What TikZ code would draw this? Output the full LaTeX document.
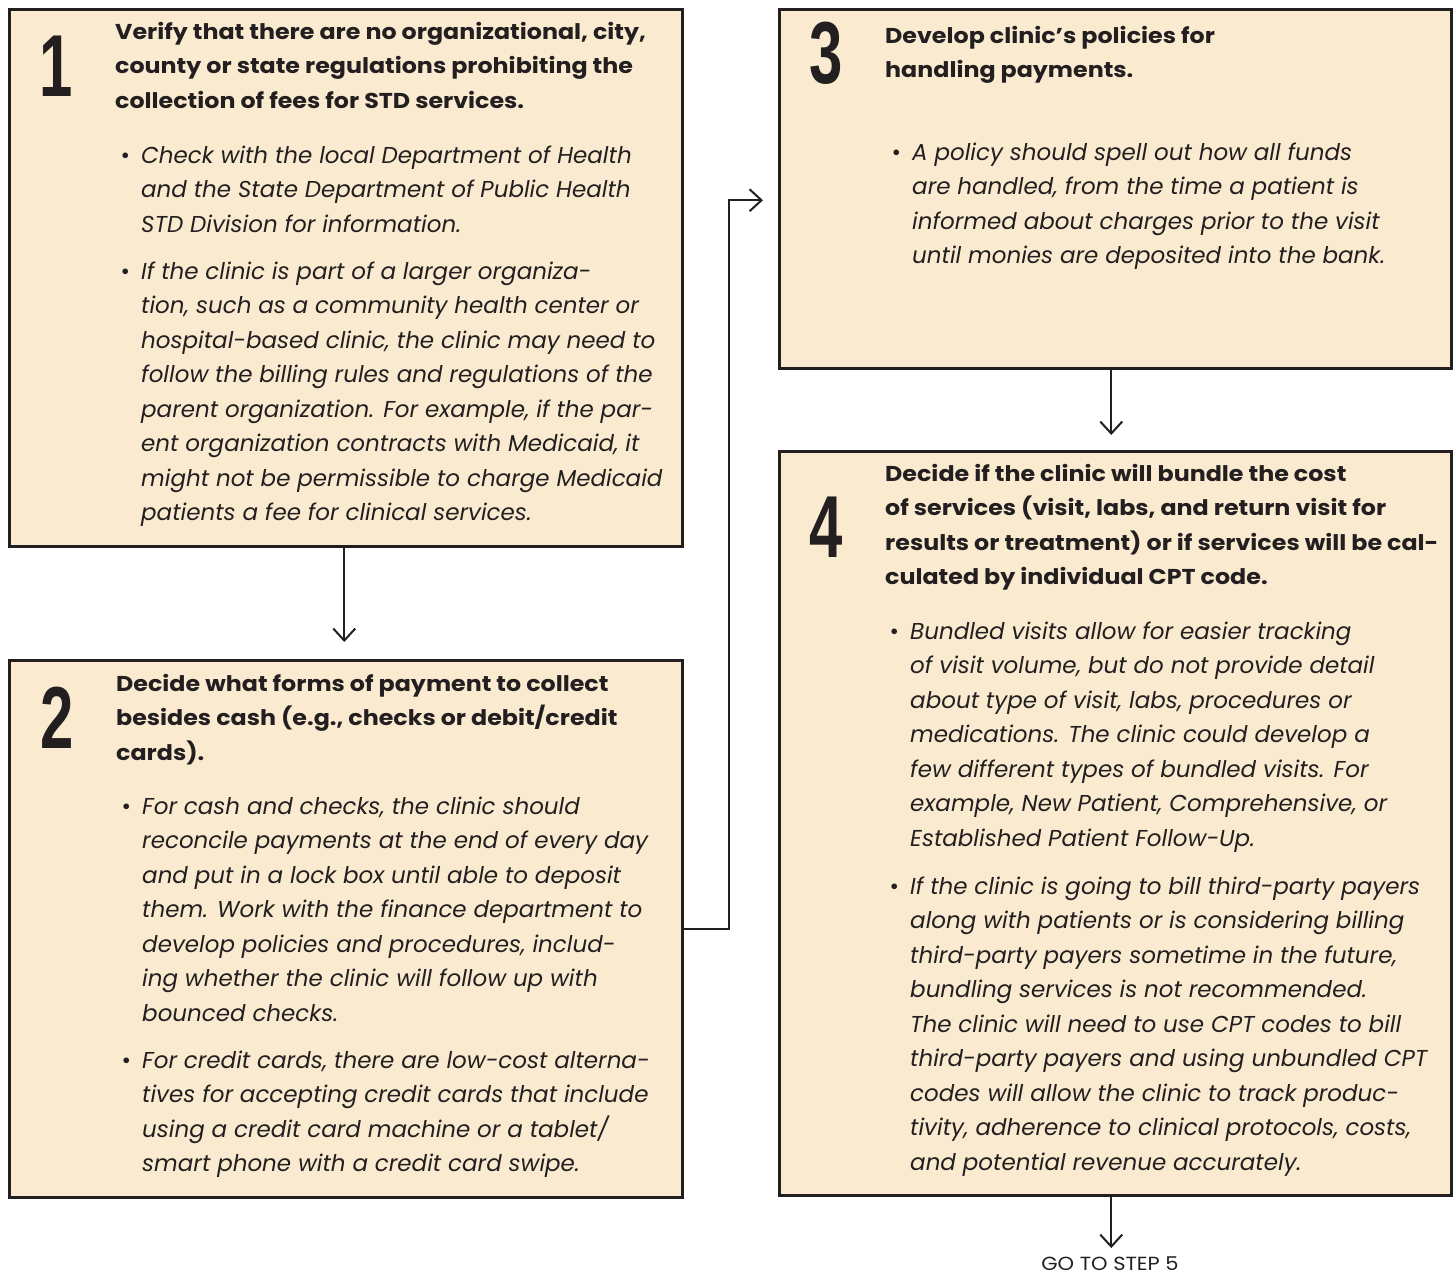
\documentclass[tikz,border=0pt]{standalone}
\usepackage{fontspec}
\setmainfont{Poppins}
\newfontfamily\headfont{Poppins}[FakeStretch=1.105]
\newfontfamily\numfont{Liberation Sans}
\usetikzlibrary{arrows.meta,calc}
\definecolor{boxfill}{HTML}{FAEBD0}
\definecolor{ink}{HTML}{231F20}
\tikzset{
  stepbox/.style={draw=ink, line width=2.5pt, fill=boxfill, inner sep=0pt, anchor=north west},
  flow/.style={draw=ink, line width=2pt, -{Straight Barb[length=12pt,width=22pt,line width=2pt]}},
  numtext/.style={anchor=center, inner sep=0pt, text=ink, font=\numfont\bfseries\fontsize{88}{88}\selectfont},
  headtext/.style={anchor=base west, inner sep=0pt, text=ink, font=\headfont\bfseries\fontsize{21.5}{34.5}\selectfont},
  bullettext/.style={anchor=base west, inner sep=0pt, text=ink, font=\itshape\fontsize{23}{34.5}\selectfont},
  gotext/.style={anchor=base, inner sep=0pt, text=ink, font=\headfont\fontsize{19}{19}\selectfont},
}
\newcommand{\bul}{\llap{\upshape\textbullet\hspace{11pt}}}
\newcommand{\cnum}[1]{\scalebox{0.68}[1]{#1}}
\newcommand{\para}[1]{\begin{tabular}[t]{@{}l@{}}#1\end{tabular}}
\begin{document}
\begin{tikzpicture}[x=1pt,y=-1pt]
\useasboundingbox[fill=white] (0,0) rectangle (1455,1274);
% boxes
\node[stepbox, minimum width=673pt, minimum height=537pt] (b1) at (8,8) {};
\node[stepbox, minimum width=673pt, minimum height=537pt] (b2) at (8,659) {};
\node[stepbox, minimum width=672pt, minimum height=359pt] (b3) at (778,8) {};
\node[stepbox, minimum width=672pt, minimum height=744pt] (b4) at (778,450) {};
% numbers
\node[numtext] (n1) at (56,66) {\cnum{1}};
\node[numtext] (n2) at (57,718) {\cnum{2}};
\node[numtext] (n3) at (826,53) {\cnum{3}};
\node[numtext] (n4) at (826,527) {\cnum{4}};
% box 1
\node[headtext] (h1) at (115,39) {\para{Verify that there are no organizational, city,\\county or state regulations prohibiting the\\collection of fees for STD services.}};
\node[bullettext] (t1a) at (141,163) {\para{\bul Check with the local Department of Health\\and the State Department of Public Health\\STD Division for information.}};
\node[bullettext] (t1b) at (141,279) {\para{\bul If the clinic is part of a larger organiza-\\tion, such as a community health center or\\hospital-based clinic, the clinic may need to\\follow the billing rules and regulations of the\\parent organization. For example, if the par-\\ent organization contracts with Medicaid, it\\might not be permissible to charge Medicaid\\patients a fee for clinical services.}};
% box 2
\node[headtext] (h2) at (116,691) {\para{Decide what forms of payment to collect\\besides cash (e.g., checks or debit/credit\\cards).}};
\node[bullettext] (t2a) at (142,814) {\para{\bul For cash and checks, the clinic should\\reconcile payments at the end of every day\\and put in a lock box until able to deposit\\them. Work with the finance department to\\develop policies and procedures, includ-\\ing whether the clinic will follow up with\\bounced checks.}};
\node[bullettext] (t2b) at (142,1068) {\para{\bul For credit cards, there are low-cost alterna-\\tives for accepting credit cards that include\\using a credit card machine or a tablet/\\smart phone with a credit card swipe.}};
% box 3
\node[headtext] (h3) at (885,43) {\para{Develop clinic’s policies for\\handling payments.}};
\node[bullettext] (t3a) at (912,160) {\para{\bul A policy should spell out how all funds\\are handled, from the time a patient is\\informed about charges prior to the visit\\until monies are deposited into the bank.}};
% box 4
\node[headtext] (h4) at (885,481) {\para{Decide if the clinic will bundle the cost\\of services (visit, labs, and return visit for\\results or treatment) or if services will be cal-\\culated by individual CPT code.}};
\node[bullettext] (t4a) at (910,639) {\para{\bul Bundled visits allow for easier tracking\\of visit volume, but do not provide detail\\about type of visit, labs, procedures or\\medications. The clinic could develop a\\few different types of bundled visits. For\\example, New Patient, Comprehensive, or\\Established Patient Follow-Up.}};
\node[bullettext] (t4b) at (910,894) {\para{\bul If the clinic is going to bill third-party payers\\along with patients or is considering billing\\third-party payers sometime in the future,\\bundling services is not recommended.\\The clinic will need to use CPT codes to bill\\third-party payers and using unbundled CPT\\codes will allow the clinic to track produc-\\tivity, adherence to clinical protocols, costs,\\and potential revenue accurately.}};
% go to step 5
\node[gotext] (go) at (1110,1270) {GO TO STEP 5};
% connectors
\draw[flow, shorten >=17pt] ([xshift=-1.5pt]b1.south) -- ([xshift=-1.5pt]b1.south |- b2.north);
\draw[flow, shorten >=15pt] (b2.east) -- ++(45,0) |- ([yshift=-11.5pt]b3.west);
\draw[flow, shorten >=15pt] ([xshift=-4pt]b3.south) -- ([xshift=-4pt]b3.south |- b4.north);
\draw[flow, shorten >=8pt] ([xshift=-4pt]b4.south) -- ([xshift=-4pt]b4.south |- go.north);
\end{tikzpicture}
\end{document}
